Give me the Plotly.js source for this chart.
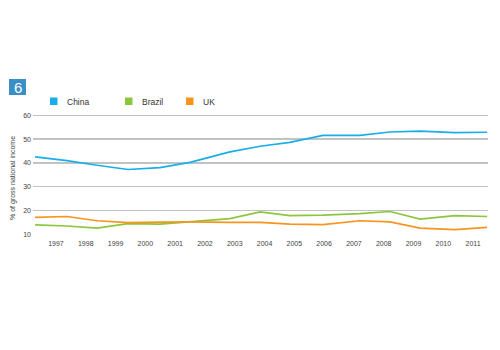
<!DOCTYPE html>
<html>
<head>
<meta charset="utf-8">
<script src="https://cdn.plot.ly/plotly-3.0.1.min.js"></script>
<style>html,body{margin:0;padding:0;background:#fff;}#chart{width:500px;height:350px;}</style>
</head>
<body>
<div id="chart"></div>
<script>
// Data
const years = [1996.3, 1997.37, 1998.38, 1999.42, 2000.49, 2001.5, 2002.84, 2003.85, 2004.85, 2005.96, 2007.2, 2008.21, 2009.22, 2010.39, 2011.47];
const china = [42.5, 40.9, 39.0, 37.2, 38.0, 40.2, 44.6, 47.0, 48.6, 51.6, 51.6, 53.0, 53.4, 52.7, 52.9];
const brazil = [13.9, 13.4, 12.5, 14.4, 14.2, 15.3, 16.5, 19.3, 17.8, 18.0, 18.6, 19.5, 16.3, 17.8, 17.4];
const uk = [17.0, 17.4, 15.6, 14.8, 15.0, 15.1, 14.9, 14.9, 14.2, 14.0, 15.6, 15.1, 12.5, 11.9, 12.8];
const tickYears = [1997,1998,1999,2000,2001,2002,2003,2004,2005,2006,2007,2008,2009,2010,2011];
const seriesNames = ['China', 'Brazil', 'UK'];
const seriesColors = ['#1aaee8', '#8cc63f', '#f7941d'];
const yTicks = [10, 20, 30, 40, 50, 60];
const badgeText = '6';
const yTitle = '% of gross national income';

const L = 33, R = 12, T = 113, B = 115, W = 500, H = 350;
const pw = W - L - R, ph = H - T - B;
const px = p => (p - L) / pw;
const py = p => (H - B - p) / ph;

const seriesData = [china, brazil, uk];
const traces = seriesData.map((s, i) => ({
  x: years, y: s, type: 'scatter', mode: 'lines', name: seriesNames[i],
  line: {color: seriesColors[i], width: 1.7}, hoverinfo: 'skip', showlegend: false
}));

const shapes = [
  {type: 'rect', xref: 'paper', yref: 'paper', x0: px(9), x1: px(26), y0: py(95), y1: py(79),
   fillcolor: '#3b8fc7', line: {width: 0}}
];
const annotations = [
  {xref: 'paper', yref: 'paper', x: px(17.5), y: py(87.5), text: badgeText, showarrow: false,
   xanchor: 'center', yanchor: 'middle', font: {family: 'Liberation Sans, Arial', size: 15, color: '#ffffff'}},
  {xref: 'paper', yref: 'paper', x: px(13), y: py(178), text: yTitle, showarrow: false, textangle: -90,
   xanchor: 'center', yanchor: 'middle', font: {family: 'Liberation Sans, Arial', size: 7, color: '#444'}}
];
const legSq = [50, 125, 186];
legSq.forEach((x0, i) => {
  shapes.push({type: 'rect', xref: 'paper', yref: 'paper', x0: px(x0), x1: px(x0 + 7.5), y0: py(105), y1: py(97.5),
    fillcolor: seriesColors[i], line: {width: 0}});
  annotations.push({xref: 'paper', yref: 'paper', x: px(x0 + 14.5), y: py(101.5), text: seriesNames[i], showarrow: false,
    xanchor: 'left', yanchor: 'middle', font: {family: 'Liberation Sans, Arial', size: 8.5, color: '#333'}});
});

const layout = {
  width: W, height: H,
  margin: {l: L, r: R, t: T, b: B, pad: 0},
  paper_bgcolor: '#fff', plot_bgcolor: '#fff',
  showlegend: false,
  xaxis: {
    range: [1996.23, 2011.5], tickvals: tickYears, ticktext: tickYears.map(String),
    showgrid: false, zeroline: false, showline: false, ticks: '',
    tickfont: {family: 'Liberation Sans, Arial', size: 7, color: '#444'}, ticklabelstandoff: 3
  },
  yaxis: {
    range: [9.6, 61.0], tickvals: yTicks, ticktext: yTicks.map(String),
    showgrid: true, gridcolor: '#c2c2c2', gridwidth: 1.5, zeroline: false, showline: false, ticks: '',
    tickfont: {family: 'Liberation Sans, Arial', size: 7, color: '#444'}, ticklabelstandoff: 1
  },
  shapes: shapes,
  annotations: annotations
};

Plotly.newPlot('chart', traces, layout, {displayModeBar: false, staticPlot: true});
</script>
</body>
</html>
